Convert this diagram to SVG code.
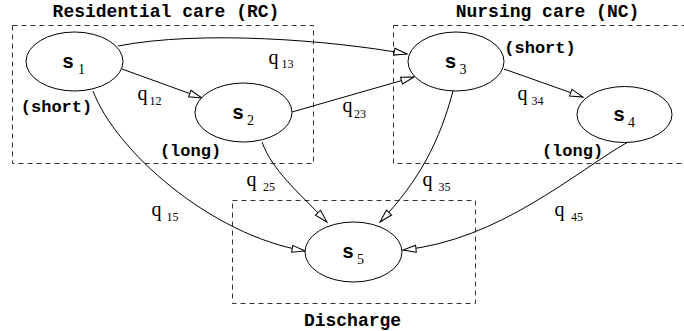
<svg xmlns="http://www.w3.org/2000/svg" width="684" height="331" viewBox="0 0 684 331">
<style>
.box{fill:none;stroke:#333;stroke-width:1;stroke-dasharray:5,4}
.node{fill:#fff;stroke:#000;stroke-width:1}
.edge{fill:none;stroke:#000;stroke-width:1;marker-end:url(#arr)}
.title{font-family:"Liberation Mono","DejaVu Sans Mono",monospace;font-weight:bold;font-size:18px;text-anchor:middle;fill:#000}
.ann{font-family:"Liberation Mono","DejaVu Sans Mono",monospace;font-weight:bold;font-size:17px;text-anchor:middle;fill:#000}
.s{font-family:"Liberation Mono","DejaVu Sans Mono",monospace;font-weight:bold;font-size:20px;fill:#000}
.sub{font-family:"Liberation Serif","Times New Roman",serif;font-weight:normal;font-size:14px}
.q{font-family:"Liberation Serif","Times New Roman",serif;font-size:20px;fill:#000}
.qs{font-size:12px}
</style>
<defs>
<marker id="arr" markerUnits="userSpaceOnUse" markerWidth="14" markerHeight="8" refX="13" refY="3.5" orient="auto" style="overflow:visible">
<path d="M0,0 L13,3.5 L0,7 Z" fill="#fff" stroke="#000" stroke-width="1"/>
</marker>
</defs>

<g id="clusters">
<rect class="box" x="12.5" y="25.5" width="301" height="138"/>
<rect class="box" x="393.5" y="25.5" width="300" height="138"/>
<rect class="box" x="232.5" y="200.5" width="243" height="103"/>
<text class="title" x="166" y="17">Residential care (RC)</text>
<text class="title" x="547.5" y="17">Nursing care (NC)</text>
<text class="title" x="352.5" y="326">Discharge</text>
</g>

<g id="connectors">
<path class="edge" d="M118,46 C200,30 330,40 407,54"/>
<path class="edge" d="M122,69 L202,98"/>
<path class="edge" d="M292,112 L414,77"/>
<path class="edge" d="M504,69 L583,97"/>
<path class="edge" d="M93,91 C115,150 210,235 305,251"/>
<path class="edge" d="M262,142 C272,170 298,192 327,222"/>
<path class="edge" d="M453,91 C440,140 420,180 380,222"/>
<path class="edge" d="M628,142 C575,172 500,240 403,250"/>
<text class="q" x="268.5" y="64">q<tspan class="qs" dx="3" dy="4">13</tspan></text>
<text class="q" x="137.5" y="99.5">q<tspan class="qs" dx="2" dy="5">12</tspan></text>
<text class="q" x="342.5" y="111.5">q<tspan class="qs" dx="1.5" dy="6">23</tspan></text>
<text class="q" x="517.5" y="99.5">q<tspan class="qs" dx="4" dy="5">34</tspan></text>
<text class="q" x="151.5" y="216">q<tspan class="qs" dx="5" dy="5">15</tspan></text>
<text class="q" x="246.5" y="186">q<tspan class="qs" dx="6.5" dy="5">25</tspan></text>
<text class="q" x="422.5" y="186">q<tspan class="qs" dx="6" dy="5">35</tspan></text>
<text class="q" x="554.5" y="216">q<tspan class="qs" dx="6.5" dy="5">45</tspan></text>
</g>

<g id="s1">
<ellipse class="node" cx="74.5" cy="61.5" rx="48.5" ry="29.5"/>
<text class="s" x="62" y="67.5">s<tspan class="sub" dx="4" dy="6">1</tspan></text>
<text class="ann" x="56.5" y="112">(short)</text>
</g>
<g id="s2">
<ellipse class="node" cx="243.5" cy="112.5" rx="48.5" ry="29.5"/>
<text class="s" x="232" y="118.5">s<tspan class="sub" dx="3" dy="6">2</tspan></text>
<text class="ann" x="190.5" y="156">(long)</text>
</g>
<g id="s3">
<ellipse class="node" cx="456" cy="61.5" rx="48" ry="29.5"/>
<text class="s" x="444.5" y="67.5">s<tspan class="sub" dx="3" dy="6">3</tspan></text>
<text class="ann" x="540" y="53">(short)</text>
</g>
<g id="s4">
<ellipse class="node" cx="624.5" cy="114.5" rx="47.5" ry="28"/>
<text class="s" x="613" y="120.5">s<tspan class="sub" dx="3" dy="6">4</tspan></text>
<text class="ann" x="572.5" y="156">(long)</text>
</g>
<g id="s5">
<ellipse class="node" cx="353.5" cy="252" rx="48.5" ry="30"/>
<text class="s" x="342" y="258">s<tspan class="sub" dx="3" dy="6">5</tspan></text>
</g>
</svg>
